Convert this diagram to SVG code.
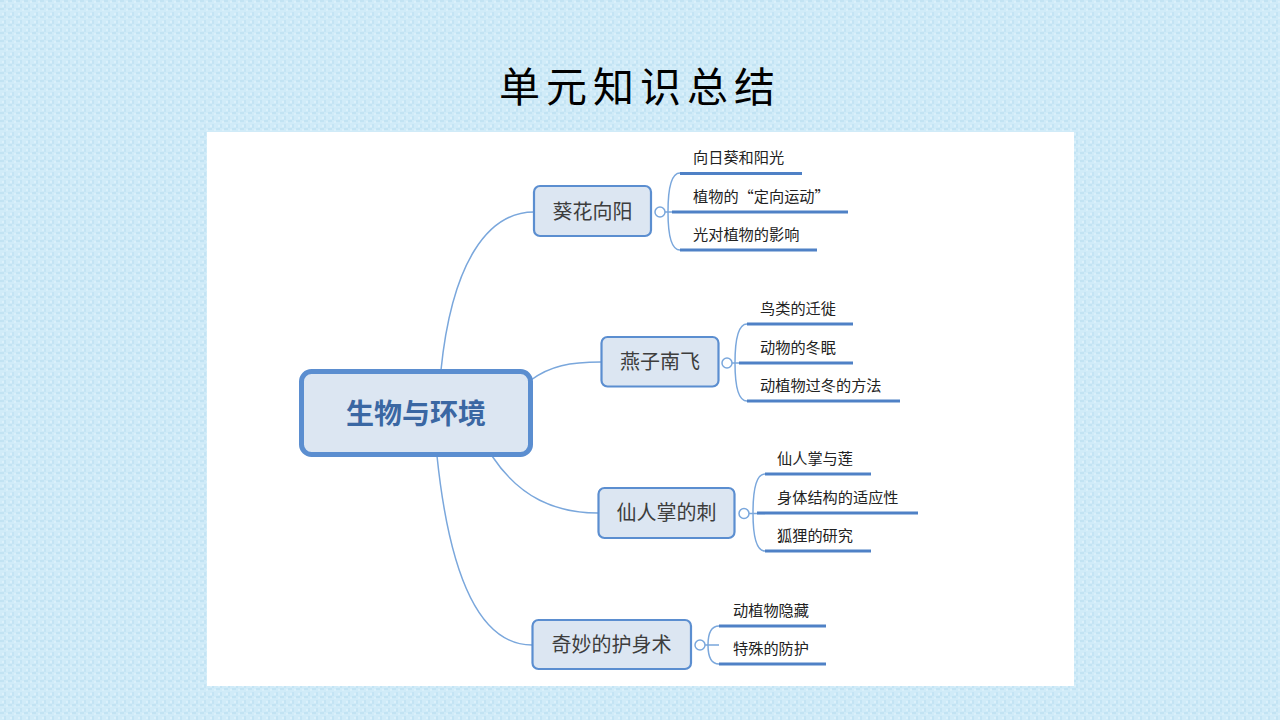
<svg xmlns="http://www.w3.org/2000/svg" width="1280" height="720" viewBox="0 0 1280 720">
<defs>
<pattern id="tex" width="8" height="8" patternUnits="userSpaceOnUse">
<rect width="8" height="8" fill="#d0ebf8"/>
<rect x="0" y="0" width="4" height="2" fill="#c2e3f3"/>
<rect x="4" y="4" width="2" height="4" fill="#c4e4f4"/>
<rect x="2" y="5" width="2" height="2" fill="#dcf1fb"/>
<rect x="6" y="1" width="2" height="2" fill="#daf0fa"/>
</pattern>
<style>
.main{fill:#dce6f2;stroke:#5b8ed0;stroke-width:5}
.br{fill:#dce6f2;stroke:#5b8ed0;stroke-width:2.2}
.mt{font-family:"Noto Sans CJK SC",sans-serif;font-weight:bold;font-size:28px;fill:#3a67a3;text-anchor:middle}
.bt{font-family:"Noto Sans CJK SC",sans-serif;font-size:20px;fill:#3d3d3d;text-anchor:middle}
.lt{font-family:"Noto Sans CJK SC",sans-serif;font-size:15.2px;fill:#222}
.ul{stroke:#4f81c6;stroke-width:3;fill:none}
.con{stroke:#7aa7dc;stroke-width:1.5;fill:none}
.knob{fill:#fff;stroke:#7aa7dc;stroke-width:1.5}
</style>
</defs>
<rect width="1280" height="720" fill="url(#tex)"/>
<text x="640" y="102" font-family="Noto Sans CJK SC,sans-serif" font-size="41" font-weight="400" letter-spacing="6" text-anchor="middle" fill="#000">单元知识总结</text>
<rect x="207" y="132" width="867" height="554" fill="#fff"/>

<g id="connectors">
<path class="con" d="M441,370 C452,262 488,212 534,212"/>
<path class="con" d="M531,380 C550,366 570,362 601,362"/>
<path class="con" d="M492,456 C520,498 556,513 598,513"/>
<path class="con" d="M437,456 C452,600 490,645 532,645"/>
<path class="con" d="M665,212 H680 M680,173 C671,173 668,190 668,212 C668,234 671,250 680,250"/>
<path class="con" d="M732,363 H747 M747,324 C738,324 735,341 735,363 C735,385 738,401 747,401"/>
<path class="con" d="M749,513.5 H765 M765,474 C756,474 753,491 753,513 C753,535 756,551 765,551"/>
<path class="con" d="M705,645 H719 M719,626 C711,626 708,634 708,645 C708,656 711,664 719,664"/>
<path class="ul" d="M680,173.5 H802 M672,212 H848 M680,250 H817"/>
<path class="ul" d="M747,324 H853 M739,363 H853 M747,401 H900"/>
<path class="ul" d="M765,474 H871 M757,513 H918 M765,551 H871"/>
<path class="ul" d="M719,626 H826 M719,664 H826"/>
</g>

<g id="root">
<rect class="main" x="301.5" y="371.5" width="229" height="83" rx="10"/>
<text class="mt" x="416" y="424">生物与环境</text>
</g>

<g id="b1">
<rect class="br" x="534" y="186" width="117" height="50" rx="6"/>
<text class="bt" x="592.5" y="219">葵花向阳</text>
<circle class="knob" cx="660" cy="212" r="5"/>
</g>
<g id="b1-l1"><text class="lt" x="693" y="163">向日葵和阳光</text></g>
<g id="b1-l2"><text class="lt" x="693" y="202">植物的“定向运动”</text></g>
<g id="b1-l3"><text class="lt" x="693" y="240">光对植物的影响</text></g>

<g id="b2">
<rect class="br" x="601.5" y="337" width="117" height="49.5" rx="6"/>
<text class="bt" x="660" y="369">燕子南飞</text>
<circle class="knob" cx="727" cy="363" r="5"/>
</g>
<g id="b2-l1"><text class="lt" x="760" y="314">鸟类的迁徙</text></g>
<g id="b2-l2"><text class="lt" x="760" y="353">动物的冬眠</text></g>
<g id="b2-l3"><text class="lt" x="760" y="391">动植物过冬的方法</text></g>

<g id="b3">
<rect class="br" x="598.5" y="488" width="136" height="50" rx="6"/>
<text class="bt" x="666.5" y="520">仙人掌的刺</text>
<circle class="knob" cx="744" cy="513.5" r="5"/>
</g>
<g id="b3-l1"><text class="lt" x="777" y="464">仙人掌与莲</text></g>
<g id="b3-l2"><text class="lt" x="777" y="503">身体结构的适应性</text></g>
<g id="b3-l3"><text class="lt" x="777" y="541">狐狸的研究</text></g>

<g id="b4">
<rect class="br" x="532.5" y="620" width="158.5" height="49" rx="6"/>
<text class="bt" x="611.5" y="652">奇妙的护身术</text>
<circle class="knob" cx="700" cy="645" r="5"/>
</g>
<g id="b4-l1"><text class="lt" x="733" y="616">动植物隐藏</text></g>
<g id="b4-l2"><text class="lt" x="733" y="654">特殊的防护</text></g>
</svg>
